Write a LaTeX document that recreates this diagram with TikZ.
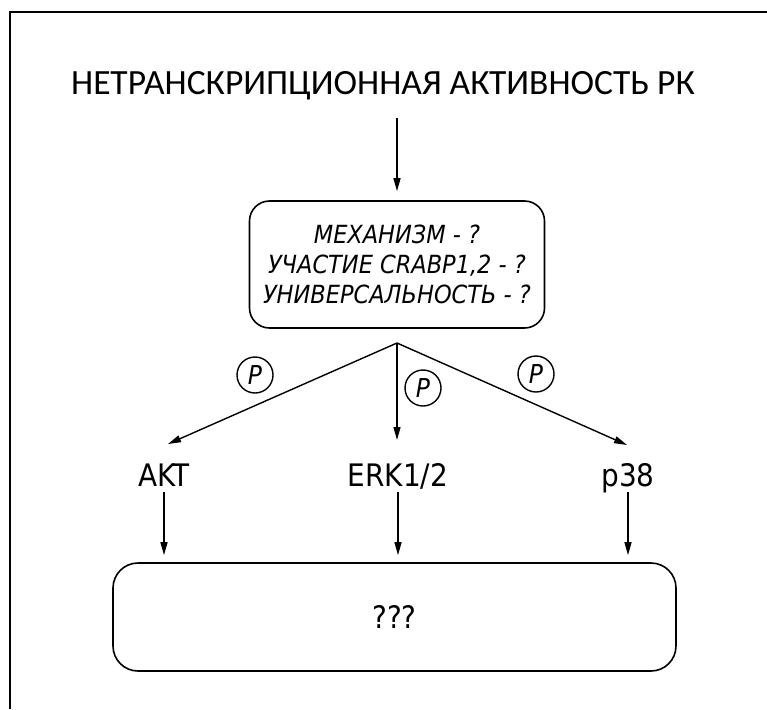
\documentclass[tikz,border=0pt]{standalone}
\usepackage{fontspec}
\setmainfont{DejaVu Sans Condensed}[ItalicFont={DejaVu Sans Condensed Oblique}]
\newfontfamily\titlefont{Carlito}
\usetikzlibrary{arrows.meta}

\begin{document}
\begin{tikzpicture}[x=1pt, y=-1pt, box/.style={draw,rounded corners=20pt,line width=1.6pt,align=center}, arr/.style={-{Triangle[length=13pt,width=7pt]},line width=1.4pt}, lbl/.style={font=\fontsize{31}{36}\selectfont,inner sep=0pt,text height=22pt,text depth=0pt}, phos/.style={draw,circle,minimum size=36pt,inner sep=0pt,line width=1.4pt,font=\fontsize{26}{28}\selectfont\itshape}]
\useasboundingbox (0,0) rectangle (767,709);
\draw[line width=2.6pt] (10,709) -- (10,12) -- (767,12);
\node[font=\titlefont\fontsize{35.5}{40}\selectfont,anchor=base,inner sep=0pt] (title) at (383,94) {НЕТРАНСКРИПЦИОННАЯ АКТИВНОСТЬ РК};
\node[box,minimum width=295pt,minimum height=127pt,font=\fontsize{25}{30}\selectfont\itshape] (question) at (397,264.5) {МЕХАНИЗМ - ?\\УЧАСТИЕ CRABP1,2 - ?\\УНИВЕРСАЛЬНОСТЬ - ?};
\coordinate (titleout) at (397,118);
\draw[arr,shorten >=9pt] (titleout) -- (question);
% branches
\coordinate (fork) at (397,343);
\node[lbl,anchor=base] (akt) at (164,486) {AKT};
\node[lbl,anchor=base] (erk) at (398,486) {ERK1/2};
\node[lbl,anchor=base] (pthirtyeight) at (628,486) {p38};
\coordinate (aktin) at (168,444);
\coordinate (erkin) at (397,440);
\coordinate (pin) at (627,445);
\draw[arr] (fork) -- (aktin); \draw[arr] (fork) -- (erkin); \draw[arr] (fork) -- (pin);
\node[phos] (pakt) at (255,375) {P};
\node[phos] (perk) at (423,388) {P};
\node[phos] (pp) at (536,374) {P};
\node[box,rounded corners=25pt,minimum width=563pt,minimum height=108pt,font=\fontsize{31}{36}\selectfont] (result) at (394.5,617) {???};
\draw[arr,shorten <=6pt,shorten >=7pt] (akt) -- (akt |- result.north);
\draw[arr,shorten <=6pt,shorten >=7pt] (erk) -- (erk |- result.north);
\draw[arr,shorten <=6pt,shorten >=7pt] (pthirtyeight) -- (pthirtyeight |- result.north);
\end{tikzpicture}
\end{document}
